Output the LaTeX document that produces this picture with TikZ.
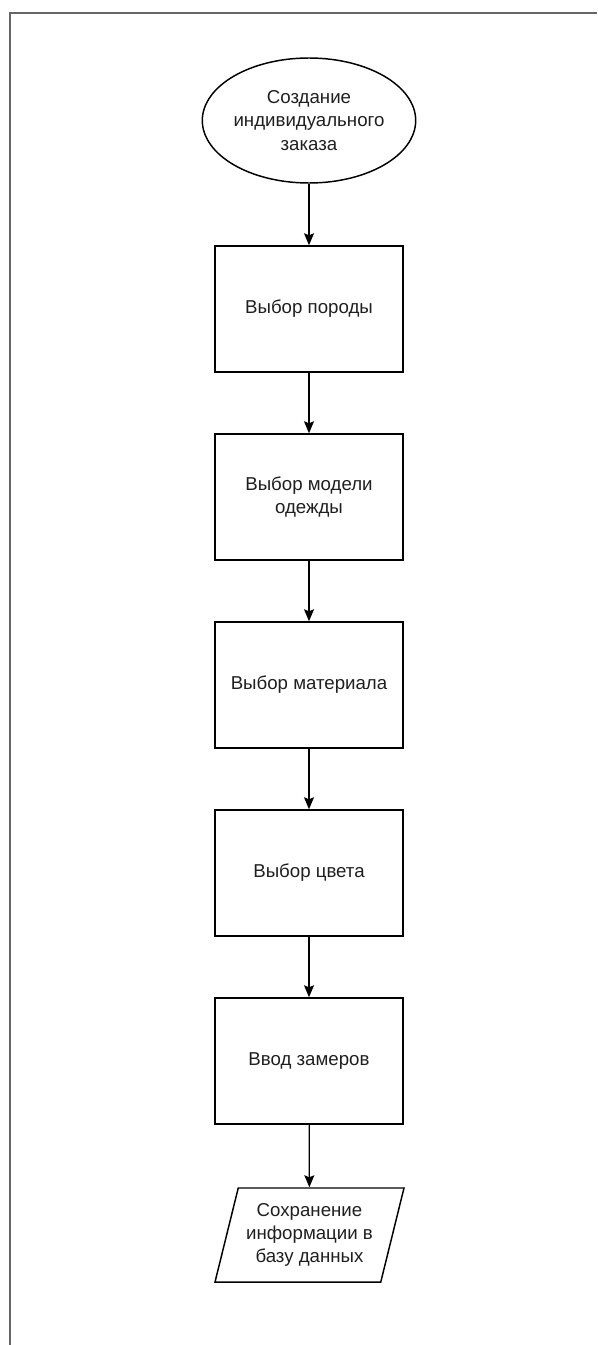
\documentclass[tikz,border=0pt]{standalone}
\usepackage{fontspec}
\setmainfont{Liberation Sans}
\usetikzlibrary{shapes.geometric,arrows.meta}
\begin{document}
\begin{tikzpicture}[x=0.75pt,y=-0.75pt,
  every node/.style={font=\fontsize{14pt}{17.5pt}\selectfont, text=black!88},
  stepbox/.style={draw, line width=1.1pt, minimum width=141pt, minimum height=94.5pt, inner sep=0pt, align=center},
  startnode/.style={draw, ellipse, line width=1.1pt, minimum width=141pt, minimum height=93.75pt, inner sep=0pt, align=center},
  ionode/.style={draw, trapezium, trapezium left angle=72, trapezium right angle=108, trapezium stretches=true, line width=1.1pt, minimum width=141.75pt, minimum height=70.5pt, inner sep=0pt, align=center},
  flow/.style={draw=black, line width=0.9pt, -{Stealth[length=9pt,width=7.5pt,inset=1.5pt]}},
  frame/.style={draw=black!60, line width=1.5pt}
]
\useasboundingbox (0,0) rectangle (597,1345);
\coordinate (ftl) at (9.5,13.5);
\coordinate (fbl) at (9.5,1345);
\coordinate (ftr) at (597,13.5);
\draw[frame] (fbl) -- (ftl) -- (ftr);

\node[startnode] (start) at (309,120.5) {Создание\\индивидуального\\заказа};
\node[stepbox] (b1) at (309,309) {Выбор породы};
\node[stepbox] (b2) at (309,497) {Выбор модели\\одежды};
\node[stepbox] (b3) at (309,685) {Выбор материала};
\node[stepbox] (b4) at (309,873) {Выбор цвета};
\node[stepbox] (b5) at (309,1061) {Ввод замеров};
\node[ionode] (save) at (309.5,1235) {Сохранение\\информации в\\базу данных};

\draw[flow] (start) -- (b1);
\draw[flow] (b1) -- (b2);
\draw[flow] (b2) -- (b3);
\draw[flow] (b3) -- (b4);
\draw[flow] (b4) -- (b5);
\draw[flow] (b5) -- (save);
\end{tikzpicture}
\end{document}
